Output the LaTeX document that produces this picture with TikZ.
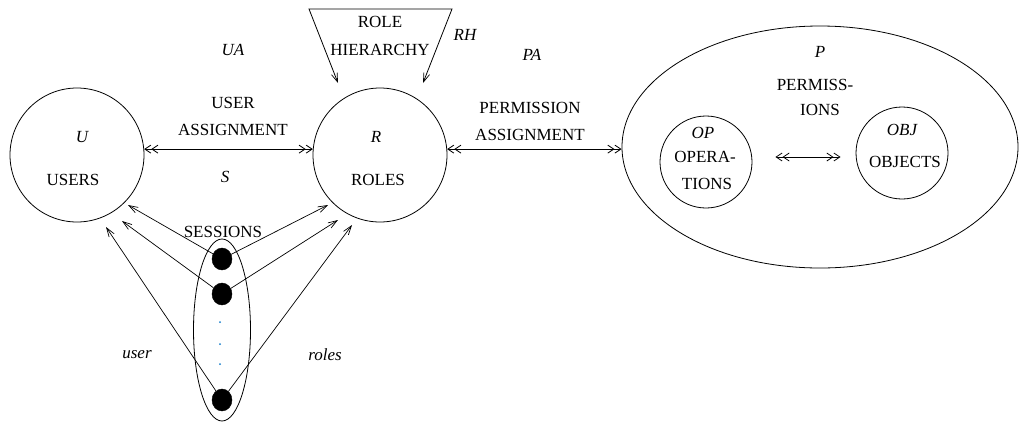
\documentclass[tikz,border=0pt]{standalone}
\usepackage{fontspec}
\setmainfont{Liberation Serif}
\usetikzlibrary{arrows.meta,shapes.geometric}
\begin{document}
\begin{tikzpicture}[x=1pt,y=-1pt,
  set/.style={draw,circle,line width=0.8pt,inner sep=0pt,minimum size=#1},
  lbl/.style={font=\fontsize{17}{19}\selectfont,inner sep=0pt},
  ilbl/.style={font=\fontsize{17}{19}\selectfont\itshape,inner sep=0pt},
  dbl/.style={line width=0.8pt,
    {Straight Barb[length=6pt,width=8pt,line width=0.8pt]Straight Barb[length=6pt,width=8pt,line width=0.8pt]}-{Straight Barb[length=6pt,width=8pt,line width=0.8pt]Straight Barb[length=6pt,width=8pt,line width=0.8pt]}},
  ar/.style={line width=0.7pt,-{Straight Barb[length=9pt,width=6pt,line width=0.7pt]}},
  dot/.style={draw,fill=black,ellipse,inner sep=0pt,minimum width=20pt,minimum height=22pt},
  tiny/.style={circle,fill=cyan!60!blue,inner sep=0pt,minimum size=2pt},
]
\useasboundingbox (0,0) rectangle (1019,421);

% main sets
\node[set=134pt] (U) at (77,155) {};
\node[set=134pt] (R) at (380,155) {};
\node[draw,ellipse,line width=0.8pt,inner sep=0pt,minimum width=396pt,minimum height=242pt] (P) at (820,147) {};
\node[set=92pt] (OP) at (706,162) {};
\node[set=92pt] (OBJ) at (902,153) {};

% labels
\node[ilbl] (uaL) at (233,50) {UA};
\node[lbl] (ua1) at (233,103) {USER};
\node[lbl] (ua2) at (233,130) {ASSIGNMENT};
\node[ilbl] (sL) at (225,177) {S};
\node[ilbl] (uL) at (82,137) {U};
\node[lbl] (usersL) at (73,180) {USERS};
\node[ilbl] (rL) at (376,137) {R};
\node[lbl] (rolesL) at (378,180) {ROLES};
\node[lbl] (rh1L) at (380,22) {ROLE};
\node[lbl] (rh2L) at (380,50) {HIERARCHY};
\node[ilbl] (rhL) at (465,35) {RH};
\node[ilbl] (paL) at (532,55) {PA};
\node[lbl] (pa1) at (530,108) {PERMISSION};
\node[lbl] (pa2) at (530,135) {ASSIGNMENT};
\node[ilbl] (pL) at (820,52) {P};
\node[lbl] (p1) at (815,85) {PERMISS-};
\node[lbl] (p2) at (820,110) {IONS};
\node[ilbl] (opL) at (703,133) {OP};
\node[lbl] (op1) at (705,157) {OPERA-};
\node[lbl] (op2) at (707,184) {TIONS};
\node[ilbl] (objL) at (902,130) {OBJ};
\node[lbl] (obj1) at (905,162) {OBJECTS};
\node[lbl] (sessL) at (223,232) {SESSIONS};
\node[ilbl] (userL) at (137,355) {user};
\node[ilbl] (rolesiL) at (325,355) {roles};

% assignments
\draw[dbl] (U.5) -- (R.175);
\draw[dbl] (R.5) -- (R.5 -| P.west);
\draw[dbl,shorten <=23pt,shorten >=15pt] (OP.east |- 0,157) -- (OBJ.west |- 0,157);

% role hierarchy
\coordinate (rhA) at (309,9);
\coordinate (rhB) at (452,9);
\coordinate (rhTL) at (338,83);
\coordinate (rhTR) at (423,83);
\draw[line width=0.8pt,{Straight Barb[length=9pt,width=6pt,line width=0.7pt]}-{Straight Barb[length=9pt,width=6pt,line width=0.7pt]}] (rhTL) -- (rhA) -- (rhB) -- (rhTR);

% sessions
\node[draw,ellipse,line width=0.8pt,inner sep=0pt,minimum width=57pt,minimum height=182pt] (S) at (222,330) {};
\node[dot] (d1) at (222,259) {};
\node[dot] (d2) at (222,294) {};
\node[dot] (d3) at (222,400) {};
\node[tiny] (t1) at (220,322) {};
\node[tiny] (t2) at (220,344) {};
\node[tiny] (t3) at (220,364) {};

\coordinate (u1) at (128,205);
\coordinate (u2) at (122,221);
\coordinate (u3) at (106,227);
\coordinate (r1) at (328,205);
\coordinate (r2) at (338,220);
\coordinate (r3) at (352,225);
\draw[ar] (d1) -- (u1);
\draw[ar] (d2) -- (u2);
\draw[ar] (d3) -- (u3);
\draw[ar] (d1) -- (r1);
\draw[ar] (d2) -- (r2);
\draw[ar] (d3) -- (r3);
\end{tikzpicture}
\end{document}
